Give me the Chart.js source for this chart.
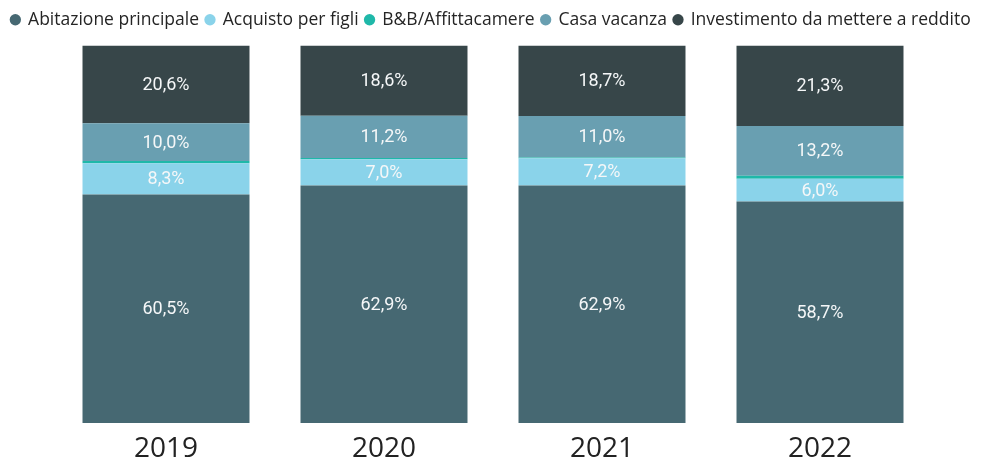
<!DOCTYPE html>
<html>
<head>
<meta charset="utf-8">
<script src="https://cdn.jsdelivr.net/npm/chart.js@4/dist/chart.umd.min.js"></script>
<style>
  html, body { margin: 0; padding: 0; background: #ffffff; }
  #wrap { width: 982px; height: 460px; }
</style>
</head>
<body>
<div id="wrap"><canvas id="chart"></canvas></div>
<script>
const years = ["2019", "2020", "2021", "2022"];

const abitazione = [60.5, 62.9, 62.9, 58.7];
const acquisto = [8.3, 7.0, 7.2, 6.0];
const bnb = [0.6, 0.3, 0.2, 0.8];
const casaVacanza = [10.0, 11.2, 11.0, 13.2];
const investimento = [20.6, 18.6, 18.7, 21.3];

// draws the percentage inside each segment (no datalabels plugin available)
const segmentLabels = {
  id: "segmentLabels",
  afterDatasetsDraw(chart) {
    const ctx = chart.ctx;
    ctx.save();
    ctx.font = "18px Roboto";
    ctx.fillStyle = "#f5f7f8";
    ctx.textAlign = "center";
    ctx.textBaseline = "middle";
    chart.data.datasets.forEach((ds, i) => {
      const meta = chart.getDatasetMeta(i);
      meta.data.forEach((bar, j) => {
        const v = ds.data[j];
        if (v < 3) return;
        const y = (bar.y + bar.base) / 2;
        ctx.fillText(v.toFixed(1).replace(".", ",") + "%", bar.x, y + 1);
      });
    });
    ctx.restore();
  },
};

// a bit more room between legend and bars
const legendGap = {
  id: "legendGap",
  beforeInit(chart) {
    const fit = chart.legend.fit;
    chart.legend.fit = function () {
      fit.bind(this)();
      this.height += 7;
    };
  },
};

new Chart(document.getElementById("chart"), {
  type: "bar",
  data: {
    labels: years,
    datasets: [
      { label: "Abitazione principale", data: abitazione, backgroundColor: "#466872" },
      { label: "Acquisto per figli", data: acquisto, backgroundColor: "#8ad3ea" },
      { label: "B&B/Affittacamere", data: bnb, backgroundColor: "#1fb8a9" },
      { label: "Casa vacanza", data: casaVacanza, backgroundColor: "#699fb1" },
      { label: "Investimento da mettere a reddito", data: investimento, backgroundColor: "#374649" },
    ],
  },
  options: {
    responsive: true,
    maintainAspectRatio: false,
    animation: false,
    categoryPercentage: 1,
    barPercentage: 0.766,
    // year labels sit close to the bottom edge, so let the axis run past it
    layout: { padding: { top: 4, left: 0, right: 0, bottom: -15 } },
    scales: {
      x: {
        stacked: true,
        grid: { display: false, drawTicks: false },
        border: { display: false },
        ticks: {
          color: "#222222",
          font: { family: "'Open Sans'", size: 28, lineHeight: 1 },
          padding: 12,
        },
      },
      // empty side axes only reserve the margins so the legend keeps full width
      y: {
        stacked: true,
        position: "left",
        min: 0,
        max: 100,
        grid: { display: false, drawTicks: false },
        border: { display: false },
        ticks: { display: false },
        afterFit(axis) { axis.width = 57; },
      },
      yRight: {
        position: "right",
        min: 0,
        max: 100,
        grid: { display: false, drawTicks: false },
        border: { display: false },
        ticks: { display: false },
        afterFit(axis) { axis.width = 53; },
      },
    },
    plugins: {
      legend: {
        position: "top",
        labels: {
          usePointStyle: true,
          pointStyle: "circle",
          boxWidth: 8,
          boxHeight: 8,
          padding: 7,
          color: "#252525",
          font: { family: "'Open Sans'", size: 17.5 },
        },
      },
      tooltip: { enabled: false },
    },
  },
  plugins: [segmentLabels, legendGap],
});
</script>
</body>
</html>
